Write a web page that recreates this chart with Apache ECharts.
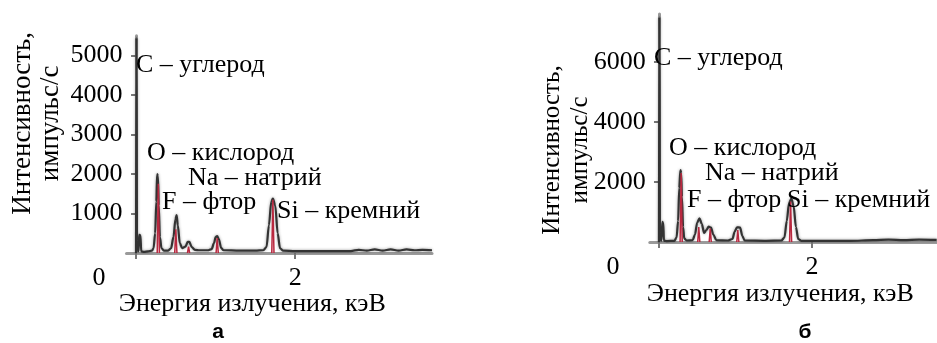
<!DOCTYPE html>
<html><head><meta charset="utf-8">
<script src="https://cdn.jsdelivr.net/npm/echarts@6/dist/echarts.min.js"></script>
<style>html,body{margin:0;padding:0;background:#fff}#c{width:937px;height:343px}</style>
</head><body><div id="c"></div>
<script>
// ---- Panel а ----
const energyA = [0.0, 0.005, 0.012, 0.03, 0.04, 0.055, 0.065, 0.1, 0.15, 0.2, 0.22, 0.24, 0.255, 0.265, 0.275, 0.285, 0.3, 0.32, 0.35, 0.4, 0.44, 0.47, 0.495, 0.51, 0.525, 0.55, 0.58, 0.62, 0.65, 0.67, 0.7, 0.74, 0.8, 0.9, 0.95, 0.98, 1.0, 1.02, 1.04, 1.07, 1.1, 1.3, 1.5, 1.6, 1.64, 1.67, 1.7, 1.72, 1.75, 1.78, 1.81, 1.85, 2.0, 2.4, 2.7, 2.8, 2.9, 3.0, 3.1, 3.2, 3.3, 3.4, 3.5, 3.6, 3.72];
const countA  = [0, 5450, 300, 40, 460, 450, 40, 30, 40, 60, 120, 500, 1300, 2000, 1950, 1200, 400, 120, 60, 60, 120, 400, 850, 960, 700, 250, 120, 160, 280, 280, 150, 80, 70, 70, 100, 250, 400, 430, 350, 130, 70, 60, 60, 70, 150, 700, 1300, 1380, 1200, 500, 120, 60, 50, 50, 50, 80, 60, 90, 60, 90, 60, 90, 70, 80, 70];
const lineEnergyA = [0.28, 0.5, 0.66, 1.02, 1.72];
const lineHeightA = [1750, 600, 160, 380, 1350];
const yTicksA = [1000, 2000, 3000, 4000, 5000];

// ---- Panel б ----
const energyB = [0.0, 0.005, 0.012, 0.03, 0.045, 0.055, 0.065, 0.1, 0.2, 0.23, 0.25, 0.265, 0.28, 0.29, 0.3, 0.315, 0.33, 0.36, 0.44, 0.47, 0.5, 0.53, 0.56, 0.59, 0.62, 0.65, 0.68, 0.71, 0.75, 0.9, 0.96, 0.99, 1.02, 1.06, 1.09, 1.12, 1.4, 1.6, 1.64, 1.67, 1.7, 1.73, 1.76, 1.79, 1.82, 1.86, 2.5, 2.8, 3.0, 3.2, 3.4, 3.63];
const countB  = [0, 7500, 300, 40, 670, 650, 40, 30, 40, 150, 700, 1800, 2400, 2300, 1500, 500, 120, 50, 60, 250, 650, 790, 600, 300, 400, 510, 480, 250, 60, 50, 100, 350, 490, 480, 200, 50, 40, 50, 150, 700, 1300, 1450, 1200, 500, 100, 40, 40, 60, 80, 60, 80, 70];
const lineEnergyB = [0.29, 0.52, 0.67, 1.03, 1.72];
const lineHeightB = [2300, 500, 450, 400, 1350];
const yTicksB = [2000, 4000, 6000];

const xTicks = [0, 2];
const elementLabels = ['C – углерод', 'O – кислород', 'Na – натрий', 'F – фтор', 'Si – кремний'];
const xTitle = 'Энергия излучения, кэВ';
const yTitle = 'Интенсивность,\nимпульс/с';
const panelLetters = ['а', 'б'];

const SERIF = '"Liberation Serif", "Times New Roman", serif';

function pairs(xs, ys) { return xs.map((x, i) => [x, ys[i]]); }
function markerData(es, hs) {
  const out = [];
  es.forEach((e, i) => { out.push([e - 0.014, 0], [e, hs[i]], [e + 0.014, 0], null); });
  return out;
}

function xAxisCfg(grid, min, max, zeroPad, margin, namePad, nameGap) {
  return {
    gridIndex: grid, type: 'value', min: min, max: max,
    axisLine: { onZero: true, lineStyle: { color: '#9a9a9a', width: 3 } },
    axisTick: { show: true, inside: false, length: 6, customValues: xTicks, lineStyle: { color: '#777', width: 2 } },
    axisLabel: {
      customValues: xTicks, margin: margin, color: '#000', fontFamily: SERIF, fontSize: 26,
      formatter: v => v === 0 ? '{z|0}' : '{n|' + v + '}',
      rich: { z: { padding: [0, zeroPad, 0, 0], fontFamily: SERIF, fontSize: 26, color: '#000' },
              n: { fontFamily: SERIF, fontSize: 26, color: '#000' } }
    },
    splitLine: { show: false },
    name: xTitle, nameLocation: 'middle', nameGap: nameGap, nameMoveOverlap: false,
    nameTextStyle: { fontFamily: SERIF, fontSize: 26, color: '#000', padding: namePad, verticalAlign: 'top' }
  };
}
function yAxisCfg(grid, max, ticks, margin, nameSize, namePad, nameGap) {
  return {
    gridIndex: grid, type: 'value', min: 0, max: max,
    axisLine: { show: true, onZero: true, lineStyle: { color: '#9a9a9a', width: 3 } },
    axisTick: { show: true, inside: false, length: 5, customValues: ticks, lineStyle: { color: '#777', width: 2 } },
    axisLabel: { customValues: ticks, margin: margin, color: '#000', fontFamily: SERIF, fontSize: 26,
      formatter: v => String(v) },
    splitLine: { show: false },
    name: yTitle, nameLocation: 'middle', nameGap: nameGap, nameMoveOverlap: false,
    nameTextStyle: { fontFamily: SERIF, fontSize: nameSize, color: '#000', lineHeight: 28, padding: namePad }
  };
}
function spectrum(idx, data) {
  return { type: 'line', xAxisIndex: idx, yAxisIndex: idx, data: data, showSymbol: false, symbol: 'none',
    smooth: 0.3, smoothMonotone: 'x', z: 3,
    lineStyle: { color: '#333', width: 2.2, shadowColor: 'rgba(0,0,0,0.4)', shadowBlur: 3 } };
}
function markers(idx, data) {
  return { type: 'line', xAxisIndex: idx, yAxisIndex: idx, data: data, showSymbol: false, symbol: 'none',
    connectNulls: false, z: 4,
    lineStyle: { color: '#b8283f', width: 1.5 },
    areaStyle: { color: 'rgba(235,150,170,0.55)' } };
}
function txt(s, x, y, font, align) {
  return { type: 'text', x: x, y: y, z: 10,
    style: { text: s, font: font || ('26px ' + SERIF), fill: '#000', verticalAlign: 'middle', align: align || 'left' } };
}

const posA = [[136, 65], [147, 153], [188, 178], [162, 202], [277, 211]];
const posB = [[654, 58], [669, 148], [705, 173], [687, 200], [787, 200]];
const graphics = [];
elementLabels.forEach((t, i) => { graphics.push(txt(t, posA[i][0], posA[i][1])); graphics.push(txt(t, posB[i][0], posB[i][1])); });
graphics.push(txt(panelLetters[0], 218, 332, 'bold 21px "Liberation Sans", Arial, sans-serif', 'center'));
graphics.push(txt(panelLetters[1], 805, 332, 'bold 21px "Liberation Sans", Arial, sans-serif', 'center'));

const chart = echarts.init(document.getElementById('c'), null, { renderer: 'canvas' });
chart.setOption({
  animation: false,
  backgroundColor: '#fff',
  grid: [
    { left: 126.5, top: 35.75, width: 305.5, height: 217.25, outerBoundsMode: 'none', containLabel: false },
    { left: 649.8, top: 14, width: 286.9, height: 228, outerBoundsMode: 'none', containLabel: false }
  ],
  xAxis: [
    xAxisCfg(0, -0.12, 3.72, 74, 12, [0, 54, 0, 0], 38),
    xAxisCfg(1, -0.12, 3.63, 92, 12, [0, 26, 0, 0], 39)
  ],
  yAxis: [
    yAxisCfg(0, 5500, yTicksA, 4, 27, [0, 0, 0, 42], 62),
    yAxisCfg(1, 7600, yTicksB, 4, 25, [0, 44, 0, 0], 55)
  ],
  series: [
    spectrum(0, pairs(energyA, countA)),
    markers(0, markerData(lineEnergyA, lineHeightA)),
    spectrum(1, pairs(energyB, countB)),
    markers(1, markerData(lineEnergyB, lineHeightB))
  ],
  graphic: graphics
});
</script>
</body></html>
